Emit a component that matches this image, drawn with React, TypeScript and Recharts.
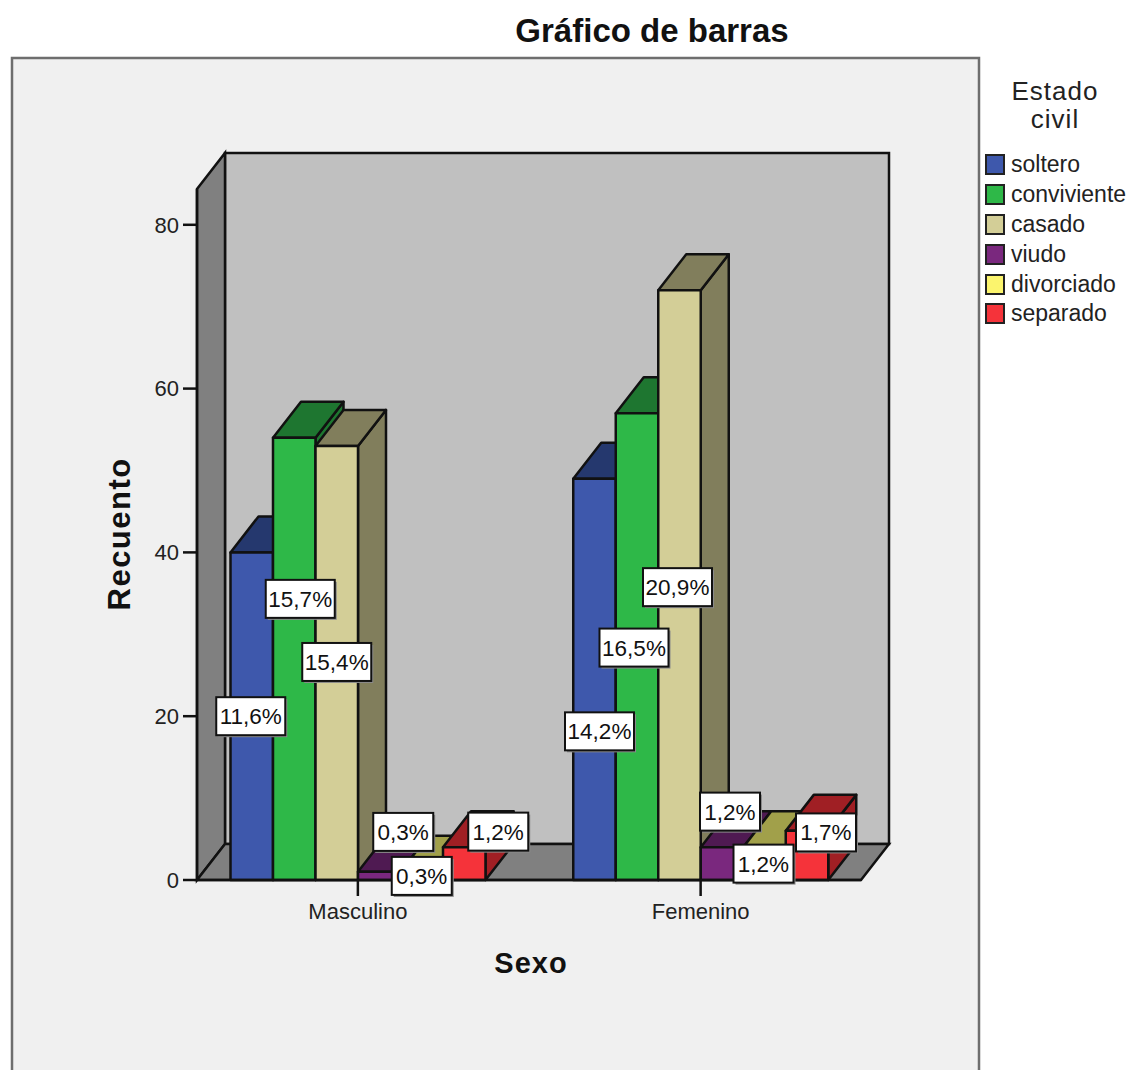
import React from "react";
import {
  BarChart,
  Bar,
  XAxis,
  YAxis,
  Legend,
  LabelList,
  Customized,
  Label,
} from "recharts";

const categories = ["Masculino", "Femenino"];
const yTicks = [0, 20, 40, 60, 80];

const soltero = [40, 49];
const conviviente = [54, 57];
const casado = [53, 72];
const viudo = [1, 4];
const divorciado = [1, 4];
const separado = [4, 6];

const solteroPct = ["11,6%", "14,2%"];
const convivientePct = ["15,7%", "16,5%"];
const casadoPct = ["15,4%", "20,9%"];
const viudoPct = ["0,3%", "1,2%"];
const divorciadoPct = ["0,3%", "1,2%"];
const separadoPct = ["1,2%", "1,7%"];

const tableData = categories.map((sexo, i) => ({
  sexo,
  soltero: soltero[i],
  conviviente: conviviente[i],
  casado: casado[i],
  viudo: viudo[i],
  divorciado: divorciado[i],
  separado: separado[i],
}));

const series = [
  { key: "soltero", pct: solteroPct, front: "#3e58ac", dark: "#25386e", nudge: [[-1, 0], [5, 52]] },
  { key: "conviviente", pct: convivientePct, front: "#2eb848", dark: "#1e7630", nudge: [[6, -60], [-3, 1]] },
  { key: "casado", pct: casadoPct, front: "#d3ce97", dark: "#817e5c", nudge: [[0, -1], [-2, 2]] },
  { key: "viudo", pct: viudoPct, front: "#7a287e", dark: "#4f1a52", nudge: [[24, -44], [8, -52]] },
  { key: "divorciado", pct: divorciadoPct, front: "#fbf46d", dark: "#a1a04a", nudge: [[0, 0], [-1, 0]] },
  { key: "separado", pct: separadoPct, front: "#f5333a", dark: "#a01f24", nudge: [[34, -32], [19, -23]] },
];

const W = 1127;
const H = 1070;
const FONT = "'Liberation Sans', Arial, sans-serif";
const INK = "#111";
const LINE = 2.5;

// depth of the fake 3D box
const DX = 28;
const DY = 36;

const LEFT = 197;
const RIGHT = 861;
const TOP = 189;
const BOTTOM = 880;

function Frame() {
  return (
    <g>
      <rect x={12} y={58} width={967} height={H} fill="#f0f0f0" stroke="#6e6e6e" strokeWidth={2.5} />
      <text x={652} y={42} textAnchor="middle" fontFamily={FONT} fontWeight="bold" fontSize={33} fill="#111">
        Gráfico de barras
      </text>
      <rect x={LEFT + DX} y={TOP - DY} width={RIGHT - LEFT} height={BOTTOM - TOP} fill="#c0c0c0" stroke={INK} strokeWidth={LINE} />
      <polygon
        points={`${LEFT},${TOP} ${LEFT + DX},${TOP - DY} ${LEFT + DX},${BOTTOM - DY} ${LEFT},${BOTTOM}`}
        fill="#808080"
        stroke={INK}
        strokeWidth={LINE}
      />
      <polygon
        points={`${LEFT},${BOTTOM} ${LEFT + DX},${BOTTOM - DY} ${RIGHT + DX},${BOTTOM - DY} ${RIGHT},${BOTTOM}`}
        fill="#808080"
        stroke={INK}
        strokeWidth={LINE}
      />
    </g>
  );
}

const Box3D = ({ x, y, width, height, front, dark }: any) => {
  const r = x + width;
  const b = y + height;
  return (
    <g stroke={INK} strokeWidth={LINE} strokeLinejoin="round">
      <polygon points={`${r},${y} ${r + DX},${y - DY} ${r + DX},${b - DY} ${r},${b}`} fill={dark} />
      <polygon points={`${x},${y} ${x + DX},${y - DY} ${r + DX},${y - DY} ${r},${y}`} fill={dark} />
      <rect x={x} y={y} width={width} height={height} fill={front} />
    </g>
  );
};

const PctLabel = ({ x, y, width, height, index, pct, nudge }: any) => {
  const text = pct[index];
  const bw = text.length > 4 ? 69 : 60;
  const bh = 38;
  const cx = x + width / 2 + nudge[index][0];
  const cy = y + height / 2 + nudge[index][1];
  return (
    <g>
      <rect x={cx - bw / 2 + 2} y={cy - bh / 2 + 2} width={bw} height={bh} fill="#8a8a8a" />
      <rect x={cx - bw / 2} y={cy - bh / 2} width={bw} height={bh} fill="#fff" stroke={INK} strokeWidth={2} />
      <text x={cx} y={cy + 8} textAnchor="middle" fontFamily={FONT} fontSize={22.5} fill="#111">
        {text}
      </text>
    </g>
  );
};

const LegendBox = () => (
  <div style={{ fontFamily: FONT, color: "#222" }}>
    <div style={{ textAlign: "center", fontSize: 26, lineHeight: "28px", letterSpacing: 1, marginBottom: 17, width: 140 }}>
      Estado
      <br />
      civil
    </div>
    {series.map((s) => (
      <div key={s.key} style={{ display: "flex", alignItems: "center", height: 29.8, fontSize: 23 }}>
        <span
          style={{
            width: 16,
            height: 17,
            background: s.front,
            border: "2px solid #222",
            marginRight: 6,
            boxSizing: "content-box",
            flex: "none",
          }}
        />
        <span>{s.key}</span>
      </div>
    ))}
  </div>
);

export default function App() {
  return (
    <div style={{ position: "absolute", left: 0, top: 0, width: W, height: H, overflow: "hidden", background: "#fff" }}>
      <BarChart
        width={W}
        height={H}
        data={tableData}
        margin={{ top: TOP, left: LEFT - 80, right: W - RIGHT - 142, bottom: H - BOTTOM - 100 }}
        barSize={42.5}
        barGap={0}
      >
        <Customized component={Frame} />
        <XAxis
          dataKey="sexo"
          padding={{ left: -10.5, right: -11 }}
          height={100}
          tickSize={16}
          tickLine={{ stroke: INK, strokeWidth: LINE }}
          axisLine={{ stroke: INK, strokeWidth: LINE }}
          tick={{ fontFamily: FONT, fontSize: 22, fill: "#222", dy: 5 }}
        >
          <Label
            value="Sexo"
            position="insideBottom"
            offset={7}
            dx={2}
            fontFamily={FONT}
            fontWeight="bold"
            fontSize={29}
            fill="#111"
            letterSpacing={1}
          />
        </XAxis>
        <YAxis
          width={80}
          domain={[0, 84.37]}
          ticks={yTicks}
          tickSize={14}
          tickMargin={4}
          tickLine={{ stroke: INK, strokeWidth: LINE }}
          axisLine={{ stroke: INK, strokeWidth: LINE }}
          tick={{ fontFamily: FONT, fontSize: 22, fill: "#222" }}
        >
          <Label
            value="Recuento"
            angle={-90}
            position="insideLeft"
            dy={76}
            dx={-3}
            fontFamily={FONT}
            fontWeight="bold"
            fontSize={31}
            letterSpacing={1.5}
            fill="#111"
          />
        </YAxis>
        <Legend
          layout="vertical"
          align="right"
          verticalAlign="top"
          width={142}
          wrapperStyle={{ left: 985, top: 77, right: "auto", width: 142 }}
          content={<LegendBox />}
        />
        {series.map((s) => (
          <Bar
            key={s.key}
            dataKey={s.key}
            isAnimationActive={false}
            shape={(p: any) => <Box3D {...p} front={s.front} dark={s.dark} />}
          >
            <LabelList dataKey={s.key} content={(p: any) => <PctLabel {...p} pct={s.pct} nudge={s.nudge} />} />
          </Bar>
        ))}
      </BarChart>
    </div>
  );
}
